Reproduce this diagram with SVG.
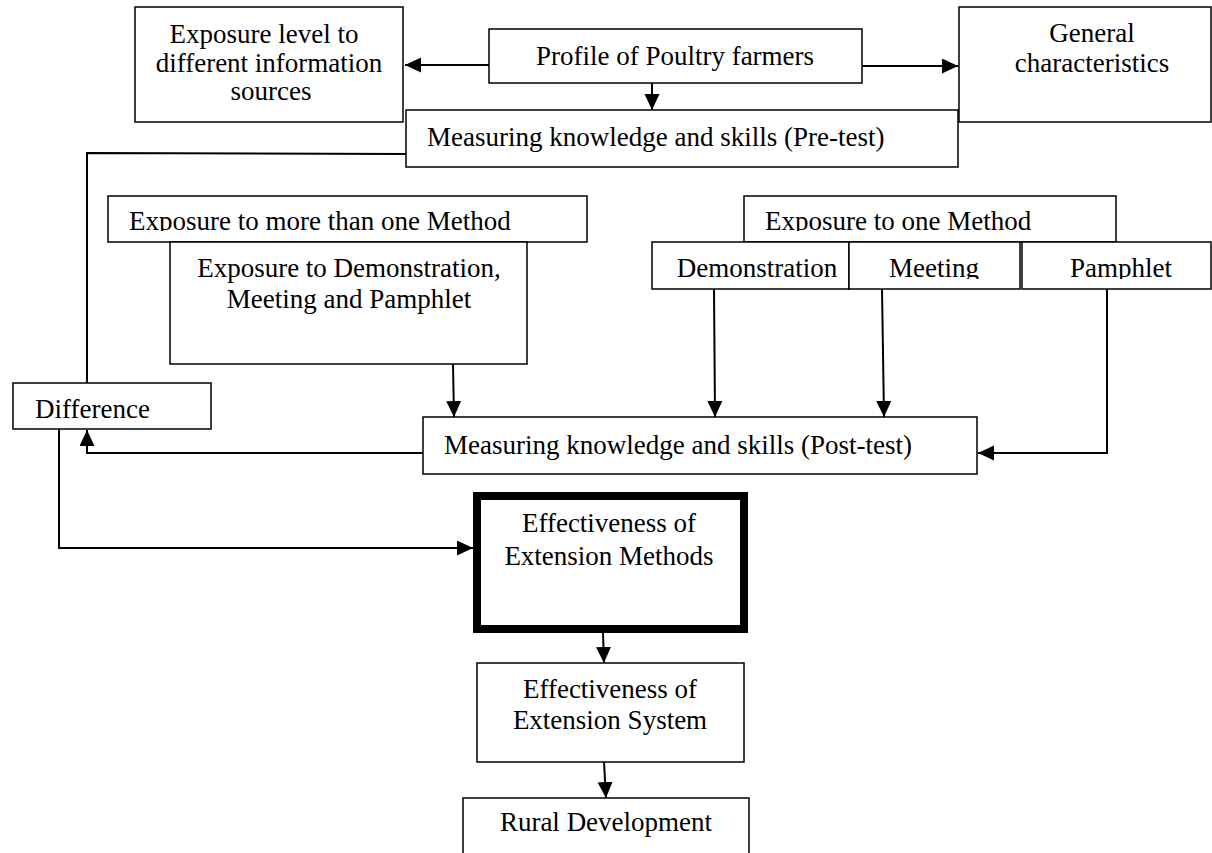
<svg xmlns="http://www.w3.org/2000/svg" width="1212" height="853" viewBox="0 0 1212 853">
<style>
  .box { fill: #fff; stroke: #000; stroke-width: 1.5; }
  .thick { fill: #fff; stroke: #000; stroke-width: 8; }
  .t { font-family: "Liberation Serif", "Times New Roman", serif; font-size: 27px; fill: #000; }
  .c { text-anchor: middle; }
  .conn { fill: none; stroke: #000; stroke-width: 2; }
</style>
<defs>
  <marker id="arrow" markerUnits="userSpaceOnUse" markerWidth="17" markerHeight="16" refX="16" refY="7.5" orient="auto">
    <path d="M0,0 L16,7.5 L0,15 z" fill="#000"/>
  </marker>
  <clipPath id="row1"><rect x="0" y="0" width="1212" height="231"/></clipPath>
  <clipPath id="row2"><rect x="0" y="0" width="1212" height="279"/></clipPath>
</defs>
<rect width="1212" height="853" fill="#fff"/>

<g id="connectors">
  <line class="conn" x1="489" y1="65" x2="405" y2="65" marker-end="url(#arrow)"/>
  <line class="conn" x1="862" y1="66" x2="958" y2="66" marker-end="url(#arrow)"/>
  <line class="conn" x1="652" y1="83" x2="652" y2="110" marker-end="url(#arrow)"/>
  <polyline class="conn" points="406,154 87,153 87,383"/>
  <line class="conn" x1="453" y1="364" x2="454" y2="417" marker-end="url(#arrow)"/>
  <line class="conn" x1="714" y1="289" x2="715" y2="417" marker-end="url(#arrow)"/>
  <line class="conn" x1="882" y1="289" x2="884" y2="417" marker-end="url(#arrow)"/>
  <polyline class="conn" points="1107,289 1107,453 978,453" marker-end="url(#arrow)"/>
  <polyline class="conn" points="423,453 87,453 87,430" marker-end="url(#arrow)"/>
  <polyline class="conn" points="59,429 59,548 473,548" marker-end="url(#arrow)"/>
  <line class="conn" x1="603" y1="633" x2="604" y2="663" marker-end="url(#arrow)"/>
  <line class="conn" x1="604" y1="762" x2="606" y2="798" marker-end="url(#arrow)"/>
</g>

<g id="exposure-level">
  <rect class="box" x="135" y="7" width="268" height="115"/>
  <text class="t c" x="264" y="43">Exposure level to</text>
  <text class="t c" x="269" y="72">different information</text>
  <text class="t c" x="271" y="100">sources</text>
</g>

<g id="profile">
  <rect class="box" x="489" y="29" width="373" height="54"/>
  <text class="t c" x="675" y="65">Profile of Poultry farmers</text>
</g>

<g id="general">
  <rect class="box" x="959" y="7" width="252" height="115"/>
  <text class="t c" x="1092" y="42">General</text>
  <text class="t c" x="1092" y="72">characteristics</text>
</g>

<g id="pretest">
  <rect class="box" x="406" y="110" width="552" height="57"/>
  <text class="t" x="427" y="146">Measuring knowledge and skills (Pre-test)</text>
</g>

<g id="more-than-one">
  <rect class="box" x="108" y="196" width="479" height="46"/>
  <text class="t" x="129" y="230" clip-path="url(#row1)">Exposure to more than one Method</text>
</g>

<g id="demo-meeting-pamphlet">
  <rect class="box" x="170" y="242" width="357" height="122"/>
  <text class="t c" x="349" y="277">Exposure to Demonstration,</text>
  <text class="t c" x="349" y="308">Meeting and Pamphlet</text>
</g>

<g id="one-method">
  <rect class="box" x="744" y="196" width="372" height="46"/>
  <text class="t" x="765" y="230" clip-path="url(#row1)">Exposure to one Method</text>
</g>

<g id="demonstration">
  <rect class="box" x="652" y="242" width="197" height="47"/>
  <text class="t c" x="757" y="277" clip-path="url(#row2)">Demonstration</text>
</g>

<g id="meeting">
  <rect class="box" x="849" y="242" width="171" height="47"/>
  <text class="t c" x="934" y="277" clip-path="url(#row2)">Meeting</text>
</g>

<g id="pamphlet">
  <rect class="box" x="1022" y="242" width="189" height="47"/>
  <text class="t c" x="1121" y="277" clip-path="url(#row2)">Pamphlet</text>
</g>

<g id="difference">
  <rect class="box" x="13" y="383" width="198" height="46"/>
  <text class="t" x="35" y="418">Difference</text>
</g>

<g id="posttest">
  <rect class="box" x="423" y="417" width="554" height="57"/>
  <text class="t" x="444" y="454">Measuring knowledge and skills (Post-test)</text>
</g>

<g id="eff-methods">
  <rect class="thick" x="477" y="496" width="267" height="133"/>
  <text class="t c" x="609" y="532">Effectiveness of</text>
  <text class="t c" x="609" y="565">Extension Methods</text>
</g>

<g id="eff-system">
  <rect class="box" x="477" y="663" width="267" height="99"/>
  <text class="t c" x="610" y="698">Effectiveness of</text>
  <text class="t c" x="610" y="729">Extension System</text>
</g>

<g id="rural">
  <rect class="box" x="463" y="798" width="286" height="70"/>
  <text class="t c" x="606" y="831">Rural Development</text>
</g>
</svg>
